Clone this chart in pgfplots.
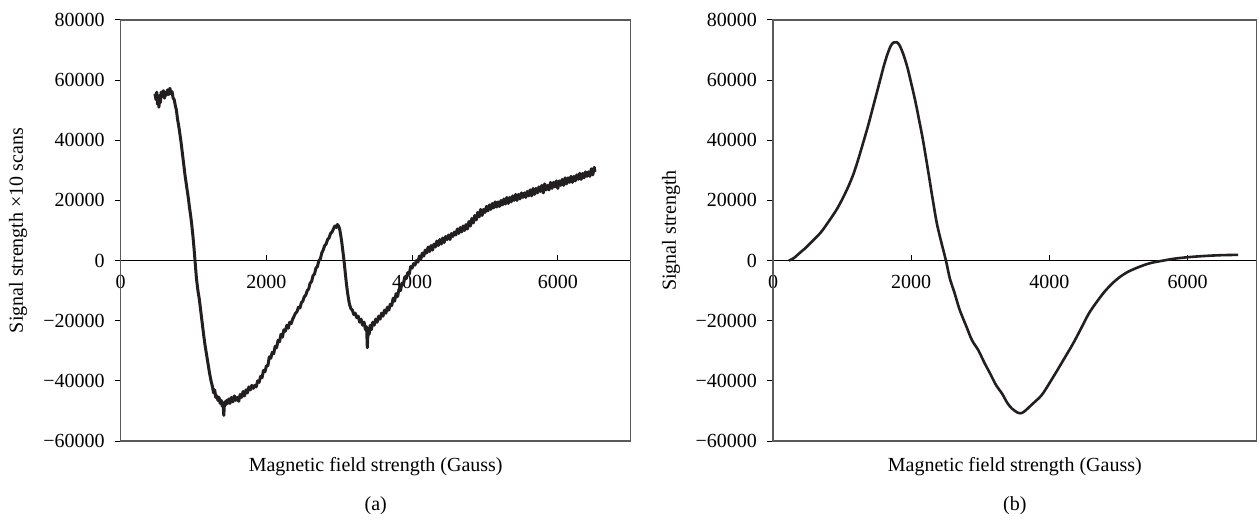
\documentclass[border=0pt]{standalone}
\usepackage{pgfplots}
\pgfplotsset{compat=1.18}
\usepackage{fontspec}
\setmainfont{Liberation Serif}
\definecolor{curve}{HTML}{231F20}
\definecolor{frame}{HTML}{5A5A5A}

\pgfplotsset{
  panel/.style={
    scale only axis,
    height=210.5pt,
    xmin=0, xmax=7000,
    ymin=-60000, ymax=80000,
    axis x line*=middle,
    axis y line*=left,
    hide obscured x ticks=false,
    hide obscured y ticks=false,
    scaled x ticks=false,
    scaled y ticks=false,
    xtick={0,2000,4000,6000},
    xticklabels={0,2000,4000,6000},
    ytick={-60000,-40000,-20000,0,20000,40000,60000,80000},
    yticklabels={−60000,−40000,−20000,0,20000,40000,60000,80000},
    major tick length=3pt,
    xtick align=inside,
    ytick align=outside,
    x axis line style={black, line width=0.6pt},
    y axis line style={frame, line width=0.6pt},
    tick style={black, line width=0.5pt},
    xticklabel style={yshift=-4pt, font=\fontsize{10}{12}\selectfont},
    yticklabel style={xshift=-1.5pt, font=\fontsize{10}{12}\selectfont},
    clip=false,
  }
}

\begin{document}
\begin{tikzpicture}
\useasboundingbox (-60.35pt,-39.5pt) rectangle (569.15pt,220.5pt);

\begin{axis}[panel, name=ax1, width=255pt, at={(0pt,0pt)}, anchor=south west]
\addplot[curve, line width=1.5pt, line join=round] coordinates {
(470,55500) (485,53500) (495,56000) (505,52000) (515,54500) (525,51000) (535,55000) (545,52500)
(555,56000) (570,54500) (585,56500) (600,54000) (615,56000) (630,55000) (645,56800) (660,55200)
(675,57300) (690,55500) (705,56200) (720,54000) (735,53500) (750,51500) (765,50000) (780,47000)
(795,45000) (810,42500) (825,40000) (840,37000) (855,34000) (870,31000) (885,28000) (900,25500)
(915,23000) (930,20500) (945,17500) (960,15000) (975,12000) (990,8500) (1005,4500) (1020,0)
(1040,-6000) (1060,-10000) (1080,-13000) (1100,-17000) (1120,-21000) (1140,-25000) (1160,-28500)
(1180,-31500) (1200,-34500) (1220,-37500) (1240,-40000) (1260,-42000) (1275,-44000) (1290,-43000)
(1305,-45500) (1320,-45000) (1335,-46500) (1350,-45500) (1365,-47500) (1380,-46500) (1395,-48500)
(1405,-47500) (1415,-51500) (1425,-47000) (1440,-48000) (1455,-46500) (1470,-47500) (1485,-46000)
(1500,-47500) (1520,-45500) (1540,-47000) (1560,-45000) (1580,-46500) (1600,-45500) (1620,-46800)
(1640,-44500) (1660,-45500) (1680,-43500) (1700,-45000) (1720,-43000) (1740,-44000) (1760,-42000)
(1780,-43000) (1800,-41500) (1820,-42500) (1840,-41500) (1860,-42000) (1880,-40000) (1900,-40500)
(1920,-38500) (1940,-39000) (1960,-36500) (1980,-37000) (2000,-35000) (2020,-35000) (2040,-32000)
(2060,-32500) (2080,-30500) (2100,-31000) (2120,-28500) (2140,-29000) (2160,-26500) (2180,-27000)
(2200,-24500) (2220,-25500) (2240,-23000) (2260,-23500) (2280,-21500) (2300,-22500) (2320,-20500)
(2340,-21000) (2360,-19500) (2380,-18500) (2400,-17500) (2420,-17000) (2440,-15500) (2460,-15800)
(2480,-14000) (2500,-13500) (2520,-12000) (2540,-11500) (2560,-10000) (2580,-9500) (2600,-7500)
(2620,-7000) (2640,-5000) (2660,-4500) (2680,-2500) (2700,-2000) (2720,0) (2740,500) (2760,2500)
(2780,3500) (2800,5000) (2820,5500) (2840,7000) (2860,7500) (2880,9000) (2900,9500) (2920,10500)
(2940,11500) (2960,11000) (2975,12000) (2990,11500) (3005,10500) (3020,8500) (3035,6000)
(3050,3000) (3065,0) (3080,-3500) (3095,-7000) (3110,-10000) (3125,-12500) (3140,-14500)
(3160,-16000) (3180,-16500) (3200,-18000) (3220,-17500) (3240,-19000) (3260,-18500) (3280,-20500)
(3300,-19500) (3320,-21500) (3340,-20500) (3360,-23000) (3375,-22000) (3385,-29000) (3395,-23500)
(3410,-24500) (3425,-21500) (3440,-23000) (3460,-20500) (3480,-21500) (3500,-19500) (3520,-20500)
(3540,-18500) (3560,-19500) (3580,-17500) (3600,-18500) (3620,-16500) (3640,-17500) (3660,-15500)
(3680,-16500) (3700,-14500) (3720,-15000) (3740,-12500) (3760,-13500) (3780,-11000) (3800,-12000)
(3820,-9500) (3840,-10000) (3860,-7500) (3880,-8000) (3900,-5500) (3920,-6000) (3940,-4000)
(3960,-4500) (3980,-2000) (4000,-2500) (4020,-1000) (4040,-1500) (4060,0) (4080,-500) (4100,1500)
(4120,500) (4140,2500) (4160,1500) (4180,3500) (4200,2500) (4220,4500) (4240,3000) (4260,5000)
(4280,3500) (4300,5500) (4320,4500) (4340,6500) (4360,5000) (4380,7000) (4400,5500) (4420,7500)
(4440,6000) (4460,8000) (4480,7000) (4500,8500) (4520,7000) (4540,9000) (4560,8000) (4580,9500)
(4600,8500) (4620,10500) (4640,9000) (4660,11000) (4680,9500) (4700,11500) (4720,10000)
(4740,12000) (4760,10500) (4780,13000) (4800,11500) (4820,14000) (4840,12500) (4860,15000)
(4880,13500) (4900,16000) (4920,14500) (4940,17000) (4960,15000) (4980,17000) (5000,16000)
(5020,18000) (5040,16500) (5060,18500) (5080,17000) (5100,19000) (5120,17500) (5140,19500)
(5160,17800) (5180,19500) (5200,18000) (5220,20000) (5240,18500) (5260,20500) (5280,18800)
(5300,21000) (5320,19000) (5340,21000) (5360,19500) (5380,21500) (5400,20000) (5420,22000)
(5440,20000) (5460,22000) (5480,20500) (5500,22500) (5520,21000) (5540,22500) (5560,21000)
(5580,23000) (5600,21500) (5620,23500) (5640,21500) (5660,24000) (5680,22000) (5700,24000)
(5720,22500) (5740,24500) (5760,23000) (5780,25000) (5800,22500) (5820,25500) (5840,23500)
(5860,25000) (5880,23500) (5900,26000) (5920,24000) (5940,26000) (5960,24500) (5980,26500)
(6000,24000) (6020,26500) (6040,25000) (6060,27000) (6080,25000) (6100,27500) (6120,25500)
(6140,27500) (6160,26000) (6180,28000) (6200,26000) (6220,28000) (6240,26500) (6260,28500)
(6280,27000) (6300,29000) (6320,27000) (6340,29000) (6360,27500) (6380,29500) (6400,28000)
(6420,29500) (6440,28000) (6460,30500) (6480,28500) (6500,31000) (6510,29500)
};
\end{axis}
\draw[frame, line width=0.6pt] (ax1.south west) rectangle (ax1.north east);
\node[rotate=90, font=\fontsize{10}{12}\selectfont] at ([xshift=-51.35pt]ax1.west) {Signal strength ×10 scans};
\node[font=\fontsize{10}{12}\selectfont] at ([yshift=-13pt]ax1.south) {Magnetic field strength (Gauss)};
\node[font=\fontsize{10}{12}\selectfont] at ([yshift=-32.5pt]ax1.south) {(a)};

\begin{axis}[panel, name=ax2, width=241.85pt, at={(326.15pt,0pt)}, anchor=south west]
\addplot[curve, line width=1.3pt, line join=round, smooth] coordinates {
(230,0) (300,800) (400,2800) (457,3900) (550,6000) (650,8300) (714,10000) (800,12800)
(914,16700) (1000,20300) (1086,24400) (1160,28500) (1229,33300) (1300,38800) (1371,44400)
(1430,49500) (1486,54400) (1550,60000) (1600,64400) (1650,68200) (1700,71200) (1743,72500)
(1790,72600) (1829,71700) (1880,69000) (1943,64400) (2000,59000) (2057,53300) (2114,46800)
(2171,40000) (2240,30500) (2314,20000) (2370,12500) (2429,6700) (2503,0) (2560,-6000)
(2629,-10900) (2700,-16300) (2800,-22000) (2880,-26500) (2971,-29800) (3060,-34000)
(3143,-37600) (3230,-41500) (3314,-44200) (3390,-47300) (3457,-49200) (3543,-50600)
(3600,-50700) (3657,-49800) (3750,-47800) (3886,-44800) (4000,-40800) (4114,-36500)
(4230,-32000) (4343,-27600) (4460,-22500) (4571,-17600) (4690,-13600) (4800,-10300)
(4910,-7600) (5029,-5300) (5140,-3700) (5257,-2500) (5370,-1500) (5486,-700) (5650,0)
(5800,600) (5950,1000) (6100,1300) (6300,1600) (6500,1800) (6730,1900)
};
\end{axis}
\draw[frame, line width=0.6pt] (ax2.south west) rectangle (ax2.north east);
\node[rotate=90, font=\fontsize{10}{12}\selectfont] at ([xshift=-51pt]ax2.west) {Signal strength};
\node[font=\fontsize{10}{12}\selectfont] at ([yshift=-13pt]ax2.south) {Magnetic field strength (Gauss)};
\node[font=\fontsize{10}{12}\selectfont] at ([yshift=-32.5pt]ax2.south) {(b)};
\end{tikzpicture}
\end{document}
